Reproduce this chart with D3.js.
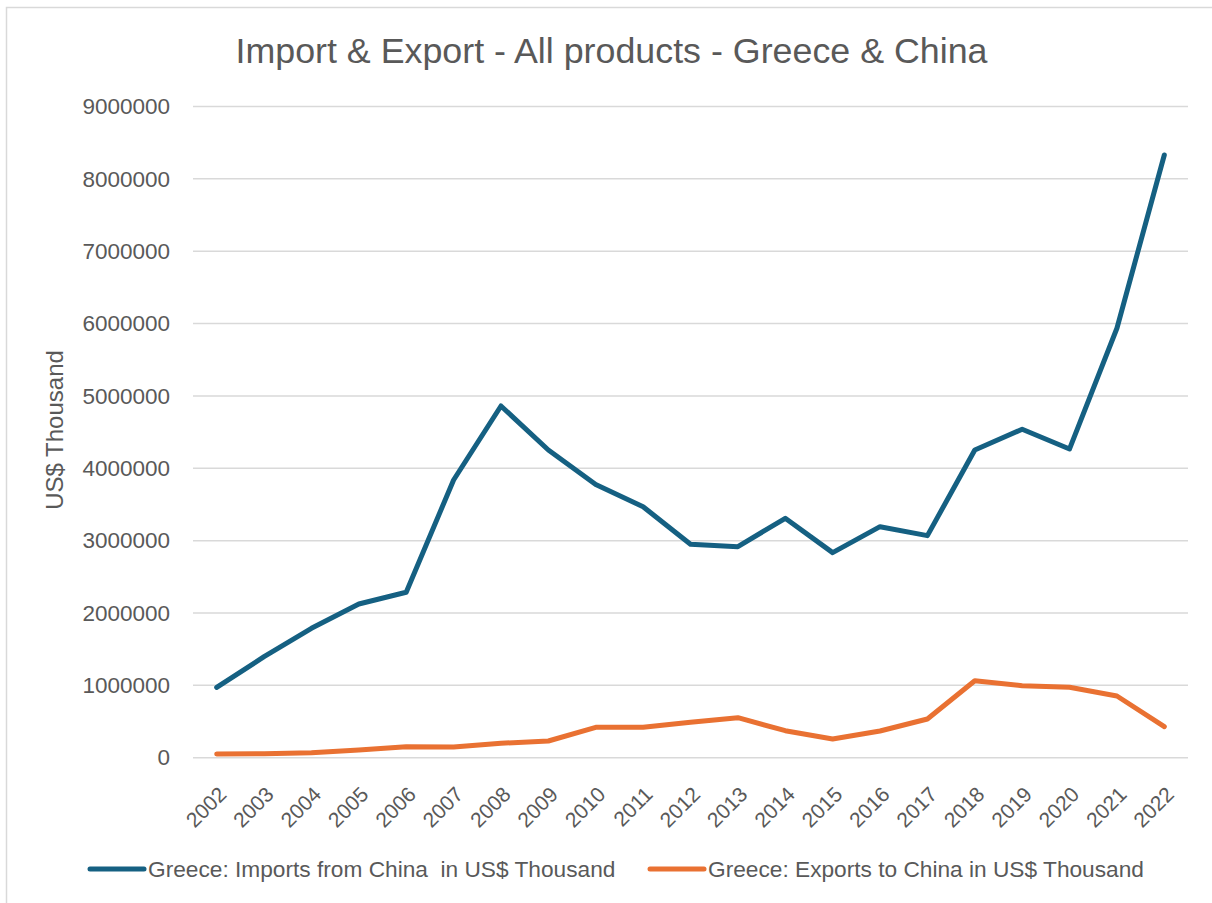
<!DOCTYPE html>
<html>
<head>
<meta charset="utf-8">
<script src="https://cdn.jsdelivr.net/npm/d3@7"></script>
<style>
  html, body { margin: 0; padding: 0; background: #ffffff; }
  svg { display: block; }
  text { font-family: "Liberation Sans", Arial, sans-serif; fill: #595959; }
</style>
</head>
<body>
<svg id="chart" width="1212" height="903"></svg>
<script>
// Trade between Greece and China, US$ thousand
const years = ["2002","2003","2004","2005","2006","2007","2008","2009","2010","2011",
               "2012","2013","2014","2015","2016","2017","2018","2019","2020","2021","2022"];
const importsFromChina = [972000, 1396000, 1788000, 2124000, 2286000, 3838000, 4861000, 4253000,
                          3775000, 3469000, 2949000, 2917000, 3309000, 2834000, 3193000, 3069000,
                          4253000, 4539000, 4267000, 5935000, 8330000];
const exportsToChina = [51000, 55000, 69000, 106000, 152000, 148000, 199000, 231000, 420000, 420000,
                        489000, 553000, 373000, 258000, 369000, 535000, 1064000, 995000, 973000,
                        853000, 429000];
const yTicks = [0, 1000000, 2000000, 3000000, 4000000, 5000000, 6000000, 7000000, 8000000, 9000000];
const seriesNames = ["Greece: Imports from China  in US$ Thousand", "Greece: Exports to China in US$ Thousand"];
const seriesColors = ["#156082", "#E97132"];

const svg = d3.select("#chart");

// outer chart frame
svg.append("rect")
  .attr("x", 6.5).attr("y", 7.5)
  .attr("width", 1230).attr("height", 930)
  .attr("fill", "none").attr("stroke", "#d9d9d9").attr("stroke-width", 1.5);

const plot = { left: 193, right: 1188, top: 106.5, bottom: 757.7 };

const x = d3.scaleBand().domain(years).range([plot.left, plot.right]);
const y = d3.scaleLinear().domain([0, 9000000]).range([plot.bottom, plot.top]);

// horizontal gridlines
svg.append("g")
  .selectAll("line")
  .data(yTicks)
  .join("line")
  .attr("x1", plot.left).attr("x2", plot.right)
  .attr("y1", d => y(d)).attr("y2", d => y(d))
  .attr("stroke", "#d9d9d9").attr("stroke-width", 1.5);

// y axis labels
const yAxis = d3.axisLeft(y).tickValues(yTicks).tickFormat(d3.format("d")).tickSize(0).tickPadding(0);
const gy = svg.append("g").attr("transform", `translate(${plot.left - 23},0)`).call(yAxis);
gy.select(".domain").remove();
gy.selectAll("text")
  .attr("font-size", 22.5)
  .attr("fill", "#595959")
  .attr("font-family", "'Liberation Sans', Arial, sans-serif");

// x axis labels, rotated
const xAxis = d3.axisBottom(x).tickSize(0).tickPadding(0);
const gx = svg.append("g").attr("transform", `translate(0,${plot.bottom})`).call(xAxis);
gx.select(".domain").remove();
gx.selectAll("text")
  .attr("font-size", 21)
  .attr("fill", "#595959")
  .attr("font-family", "'Liberation Sans', Arial, sans-serif")
  .attr("text-anchor", "end")
  .attr("dy", null)
  .attr("y", 0)
  .attr("transform", "translate(11,38) rotate(-45)");

// y axis title
svg.append("text")
  .attr("transform", `translate(63,430) rotate(-90)`)
  .attr("text-anchor", "middle")
  .attr("font-size", 24)
  .text("US$ Thousand");

// title
svg.append("text")
  .attr("x", 611.5).attr("y", 63)
  .attr("text-anchor", "middle")
  .attr("font-family", "'Open Sans', sans-serif")
  .attr("font-size", 35.8)
  .text("Import & Export - All products - Greece & China");

// series lines
const line = d3.line()
  .x((d, i) => x(years[i]) + x.bandwidth() / 2)
  .y(d => y(d));

[importsFromChina, exportsToChina].forEach((vals, k) => {
  svg.append("path")
    .datum(vals)
    .attr("d", line)
    .attr("fill", "none")
    .attr("stroke", seriesColors[k])
    .attr("stroke-width", 5)
    .attr("stroke-linejoin", "round")
    .attr("stroke-linecap", "round");
});

// legend
const legendItems = [{ x: 88 }, { x: 648 }];
legendItems.forEach((it, k) => {
  const g = svg.append("g").attr("transform", `translate(${it.x},869)`);
  g.append("line")
    .attr("x1", 2).attr("x2", 56).attr("y1", 0).attr("y2", 0)
    .attr("stroke", seriesColors[k]).attr("stroke-width", 5)
    .attr("stroke-linecap", "round");
  g.append("text")
    .attr("x", 60).attr("y", 0).attr("dy", "0.35em")
    .attr("font-size", 22.7)
    .attr("xml:space", "preserve")
    .style("white-space", "pre")
    .text(seriesNames[k]);
});
</script>
</body>
</html>
